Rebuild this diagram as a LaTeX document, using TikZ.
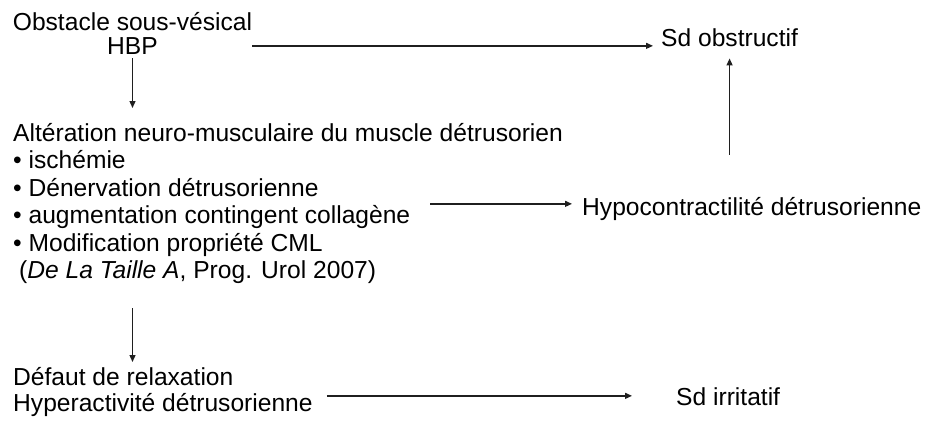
\documentclass[tikz,border=0pt]{standalone}
\usepackage{fontspec}
\setmainfont{Liberation Sans}
\usetikzlibrary{arrows.meta}
\tikzset{
  txt/.style={inner sep=0pt, font=\fontsize{24.6}{27.5}\selectfont},
  arr/.style={draw=black!88, line width=1.3pt, -{Triangle[length=7pt,width=6pt]}}
}
\begin{document}
\begin{tikzpicture}[x=1pt,y=-1pt]
  \useasboundingbox (0,0) rectangle (925,428);
  \node [txt, anchor=north, align=center, font=\fontsize{24.6}{24}\selectfont] (obst) at (132.5,12.5)
    {Obstacle sous-vésical\\HBP};
  \node [txt, anchor=north west, align=left] (alt) at (13,123)
    {Altération neuro-musculaire du muscle détrusorien\\
     • ischémie\\
     • Dénervation détrusorienne\\
     • augmentation contingent collagène\\
     • Modification propriété CML\\
     \hspace*{6pt}(\textit{De La Taille A}, Prog. Urol 2007)};
  \node [txt, anchor=north west, align=left, font=\fontsize{24.6}{26}\selectfont] (defaut) at (13,367)
    {Défaut de relaxation\\Hyperactivité détrusorienne};
  \node [txt, anchor=base west] (sdobs) at (661,47) {Sd obstructif};
  \node [txt, anchor=base west] (hypo) at (582,215) {Hypocontractilité détrusorienne};
  \node [txt, anchor=base west] (sdirr) at (676,405) {Sd irritatif};
  % connectors
  \draw [arr, shorten >=8pt] ([yshift=-1.5pt]obst.east |- sdobs.mid west) -- ([yshift=-1.5pt]sdobs.mid west);
  \draw [arr, shorten <=3pt, shorten >=15pt] (obst.south) -- (obst.south |- alt.north);
  \draw [arr, shorten <=24pt, shorten >=5pt] (obst.south |- alt.south) -- (obst.south |- defaut.north);
  \draw [arr, shorten >=10pt] ([xshift=-152pt,yshift=8.5pt]hypo.mid west) -- ([yshift=8.5pt]hypo.mid west);
  \draw [arr, shorten <=42pt, shorten >=11pt] (sdobs.south |- hypo.north) -- (sdobs.south);
  \draw [arr, shorten <=14pt, shorten >=44pt] ([yshift=6.5pt]defaut.east |- sdirr.mid west) -- ([yshift=6.5pt]sdirr.mid west);
\end{tikzpicture}
\end{document}
